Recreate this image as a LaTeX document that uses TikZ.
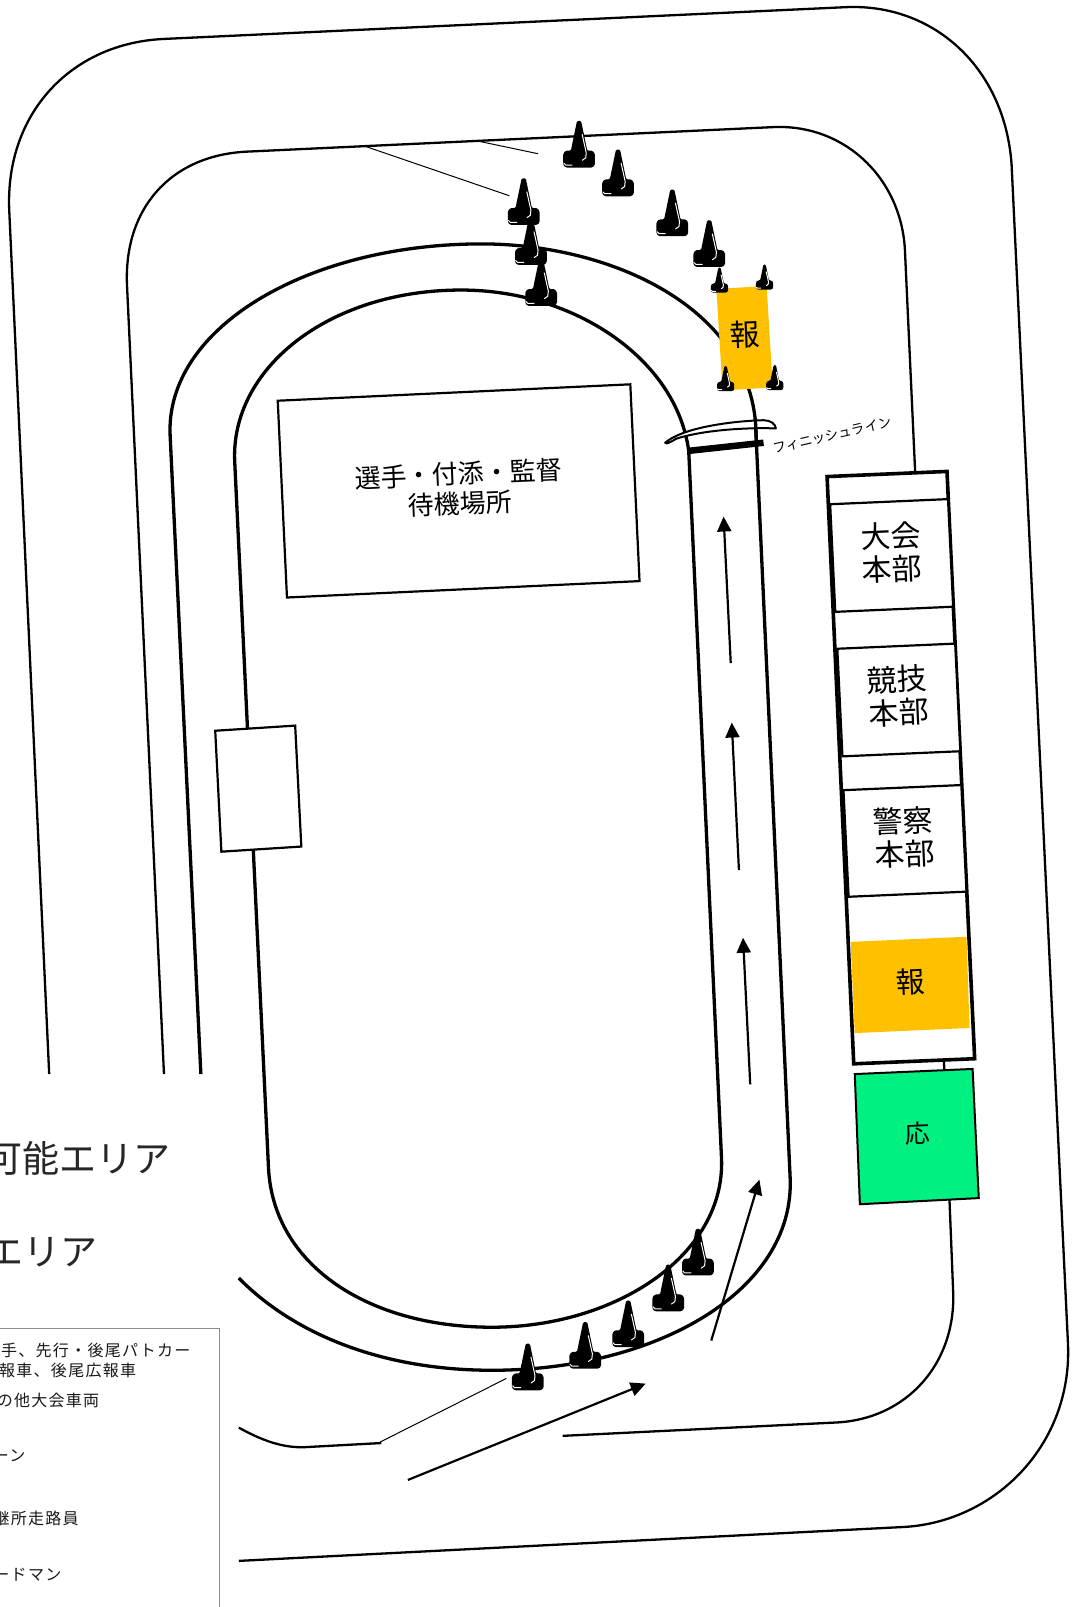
\documentclass[tikz,border=0pt]{standalone}
\usepackage{fontspec}
\setmainfont{Noto Sans CJK JP}
\usetikzlibrary{arrows.meta}
\newcommand{\fsz}[1]{\fontsize{#1}{#1}\selectfont}
\definecolor{hou}{RGB}{255,192,0}
\definecolor{ou}{RGB}{0,240,130}
\tikzset{
  road/.style={draw=black,line width=2.3pt},
  track/.style={draw=black,line width=3.3pt},
  thin line/.style={draw=black,line width=1pt},
  box/.style={draw=black,line width=2.2pt,fill=white},
  flow/.style={draw=black,line width=2.2pt,-{Triangle[length=15pt,width=14pt]}},
  lbl/.style={inner sep=0pt,align=center,text=black},
  legend/.style={inner sep=0pt,anchor=east,text=black!90,font=\fsz{16}\addfontfeatures{LetterSpace=8}},
  cone/.pic={
    \fill[black,rounded corners=1.2pt] (-2,0) -- (2,0) -- (8,29) -- (13,29) -- (15.5,32) -- (15.5,43) -- (13,45.5) -- (-13,45.5) -- (-15.5,43) -- (-15.5,32) -- (-13,29) -- (-8,29) -- cycle;
    \draw[white,line width=1pt,line join=round] (3,13) -- (7,31) -- (6.5,36) -- (3,38.5);
    \draw[white,line width=1pt,line join=round] (-15,41) -- (-13,43) -- (-6.5,43);
  }
}
\begin{document}
\begin{tikzpicture}[x=1.0249pt,y=-1.0249pt]
\useasboundingbox (0,0) rectangle (1046,1568);
\fill[white] (0,0) rectangle (1046,1568);
\clip (0,0) rectangle (1046,1568);

% road
\draw[road] (48,1048) -- (9,205) .. controls (5,110) and (70,42) .. (160,38) -- (825,7)
  .. controls (910,3) and (980,65) .. (987,160) -- (1042,1310)
  .. controls (1047,1410) and (970,1486) .. (880,1490) -- (233,1523);
\draw[road] (160,1048) -- (124,280) .. controls (120,205) and (165,152) .. (240,148) -- (755,124)
  .. controls (825,121) and (880,175) .. (883,245) -- (893,462);
\draw[road] (921,1035) -- (930,1260) .. controls (933,1330) and (885,1385) .. (815,1388) -- (549,1401);
\draw[road] (233,1393) .. controls (255,1405) and (275,1413) .. (298,1412) -- (372,1408);

% thin lines
\coordinate (t1a) at (357,143); \coordinate (t1b) at (497,191);
\coordinate (t2a) at (468,138); \coordinate (t2b) at (525,150);
\coordinate (t3a) at (371,1407); \coordinate (t3b) at (494,1345);
\draw[thin line] (t1a) -- (t1b);
\draw[thin line] (t2a) -- (t2b);
\draw[thin line] (t3a) -- (t3b);

% track
\draw[track] (196,1048) -- (166,425) .. controls (161,320) and (300,238) .. (470,238)
  .. controls (590,238) and (725,295) .. (737,410) -- (771,1150)
  .. controls (775,1260) and (640,1337) .. (480,1337)
  .. controls (370,1337) and (285,1300) .. (233,1247);
\draw[track] (229,450) .. controls (225,360) and (320,283) .. (450,283)
  .. controls (560,283) and (660,350) .. (672,440) -- (704,1130)
  .. controls (708,1225) and (600,1295) .. (480,1295)
  .. controls (360,1295) and (267,1235) .. (262,1140) -- cycle;

% athletes area and small box
\draw[box] (271,391) -- (615,375) -- (624,567) -- (280,583) -- cycle;
\node[lbl,font=\fsz{26}] (wait) at (448,477) [rotate=2.5] {選手・付添・監督\\[4pt]待機場所};
\draw[box] (210,713) -- (288,708) -- (294,826) -- (216,831) -- cycle;

% finish
\draw[black,line width=2pt,fill=white,line join=round] (649,432) .. controls (665,418) and (710,411) .. (745,410)
  .. controls (752,410) and (757,414) .. (757,418)
  .. controls (725,417) and (685,420) .. (660,428)
  .. controls (655,431) and (650,434) .. (649,432) -- cycle;
\draw[track] (737,408) -- (738,430);
\draw[black,line width=6.5pt] (671,440) -- (745,432);
\node[lbl,font=\fsz{13.5}] (finish) at (812,425) [rotate=13] {フィニッシュライン};

% report car
\fill[hou] (699,282) -- (748,279) -- (754,378) -- (705,381) -- cycle;
\node[lbl,font=\fsz{30}] (hou1) at (727,326) [rotate=2.5] {報};

% buildings
\draw[black,line width=3.6pt,fill=white] (807,465) -- (924,460) -- (951,1033) -- (833,1038) -- cycle;
\draw[box] (810,492) -- (925,487) -- (930,592) -- (815,597) -- cycle;
\node[lbl,font=\fsz{30}] (taikai) at (870,539) [rotate=2.5] {大会\\[3pt]本部};
\draw[box] (817,633) -- (932,628) -- (937,733) -- (822,738) -- cycle;
\node[lbl,font=\fsz{30}] (kyogi) at (876,679) [rotate=2.5] {競技\\[3pt]本部};
\draw[box] (823,771) -- (938,766) -- (943,870) -- (828,875) -- cycle;
\node[lbl,font=\fsz{30}] (keisatsu) at (882,817) [rotate=2.5] {警察\\[3pt]本部};
\fill[hou] (830,919) -- (943,914) -- (946,1003) -- (834,1008) -- cycle;
\node[lbl,font=\fsz{29}] (hou2) at (888,958) [rotate=2.5] {報};
\draw[black,line width=2pt,fill=ou] (834,1048) -- (949,1043) -- (955,1169) -- (839,1175) -- cycle;
\node[lbl,font=\fsz{25}] (ou) at (895,1106) [rotate=2.5] {応};

% arrows
\coordinate (a1s) at (713,647); \coordinate (a1e) at (706,504);
\coordinate (a2s) at (721,849); \coordinate (a2e) at (714,705);
\coordinate (a3s) at (732,1058); \coordinate (a3e) at (725,915);
\coordinate (a4s) at (694,1308); \coordinate (a4e) at (741,1151);
\coordinate (a5s) at (398,1444); \coordinate (a5e) at (630,1350);
\draw[flow] (a1s) -- (a1e);
\draw[flow] (a2s) -- (a2e);
\draw[flow] (a3s) -- (a3e);
\draw[flow] (a4s) -- (a4e);
\draw[flow] (a5s) -- (a5e);

% cones
\pic at (565,118) {cone};
\pic at (603,146) {cone};
\pic at (656,185) {cone};
\pic at (692,215) {cone};
\pic at (511,174) {cone};
\pic at (518,213) {cone};
\pic at (528,253) {cone};
\pic at (681,1199) {cone};
\pic at (652,1234) {cone};
\pic at (613,1269) {cone};
\pic at (571,1290) {cone};
\pic at (515,1311) {cone};
\pic[scale=0.54] at (702,261) {cone};
\pic[scale=0.54] at (746,258) {cone};
\pic[scale=0.54] at (708,357) {cone};
\pic[scale=0.54] at (756,356) {cone};

% legend text
\node[lbl,font=\fsz{37},anchor=east,text=black!85] (area1) at (167,1130) {可能エリア};
\node[lbl,font=\fsz{37},anchor=east,text=black!85] (area2) at (95,1222) {エリア};
\draw[black!45,line width=0.8pt] (-5,1296) -- (214,1296) -- (214,1575);
\node[legend] (l1) at (186,1318) {手、先行・後尾パトカー};
\node[legend] (l2) at (133,1337) {報車、後尾広報車};
\node[legend] (l3) at (97,1366) {の他大会車両};
\node[legend] (l4) at (25,1420) {ーン};
\node[legend] (l5) at (77,1482) {継所走路員};
\node[legend] (l6) at (60,1536) {ードマン};
\end{tikzpicture}
\end{document}
